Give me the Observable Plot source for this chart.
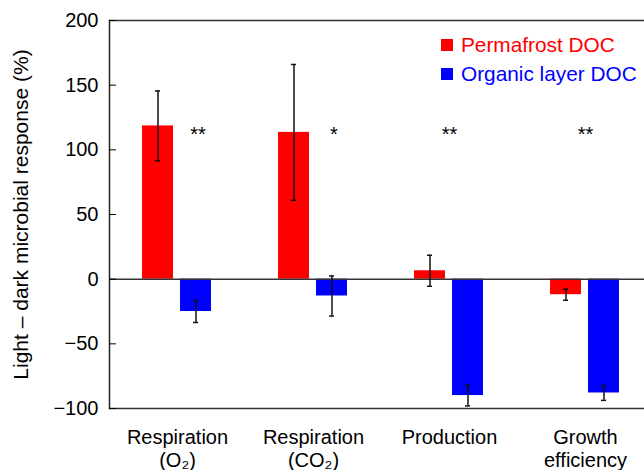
<!DOCTYPE html>
<html><head><meta charset="utf-8">
<script src="https://cdn.jsdelivr.net/npm/d3@7"></script>
<script src="https://cdn.jsdelivr.net/npm/@observablehq/plot@0.6"></script>
<style>
body{margin:0;background:#fff;}
#chart{position:relative;width:644px;height:470px;font-family:"Liberation Sans",Arial,sans-serif;overflow:hidden;}
.legend{position:absolute;left:441px;top:30px;font-size:20.8px;line-height:29px;}
.legend div{display:flex;align-items:center;white-space:nowrap;}
.legend .sw{display:inline-block;width:12px;height:12px;margin-right:8px;}
</style></head><body><div id="chart"></div>
<script>
const categories = ["Respiration\n(O\u2082)", "Respiration\n(CO\u2082)", "Production", "Growth\nefficiency"];
const series = ["Permafrost DOC", "Organic layer DOC"];
const colors = ["#ff0000", "#0000ff"];
const permafrost = [118.5, 113.5, 6.5, -12];
const permafrostErr = [27, 52.5, 12, 4.3];
const organic = [-25, -13, -90, -88];
const organicErr = [8.5, 15.5, 8, 5.7];
const significance = ["**", "*", "**", "**"];
const starOverOrganic = [true, true, false, false];
const yTicks = [-100, -50, 0, 50, 100, 150, 200];
const yLabel = "Light \u2013 dark microbial response (%)";
const starLevel = 112;

const rows = [];
categories.forEach((c, i) => {
  rows.push({group: c, series: series[0], value: permafrost[i], err: permafrostErr[i]});
  rows.push({group: c, series: series[1], value: organic[i], err: organicErr[i]});
});
const stars = categories.map((c, i) => ({group: c, text: significance[i], over: starOverOrganic[i]}));

const font = "Liberation Sans, Arial, sans-serif";
const plot = Plot.plot({
  width: 644, height: 470,
  marginLeft: 108, marginRight: -10, marginTop: 20, marginBottom: 62,
  style: {fontFamily: font, fontSize: "20px", background: "white", color: "black", overflow: "visible"},
  fx: {domain: categories, padding: 0},
  x: {domain: series, paddingInner: 0.18, paddingOuter: 0.84, axis: null},
  y: {domain: [-100, 200], ticks: yTicks},
  color: {domain: series, range: colors},
  marks: [
    Plot.barY(rows, {fx: "group", x: "series", y: "value", fill: "series"}),
    Plot.ruleY([0], {stroke: "#333", strokeWidth: 1.5}),
    Plot.ruleY([-100], {stroke: "#333", strokeWidth: 1.5}),
    Plot.ruleY([200], {stroke: "#333", strokeWidth: 1.5}),
    Plot.frame({anchor: "left", facetAnchor: "left", stroke: "#222", strokeWidth: 1.5}),
    Plot.ruleX(rows, {fx: "group", x: "series", y1: d => d.value - d.err, y2: d => d.value + d.err, stroke: "#111", strokeWidth: 1.5}),
    Plot.tickY(rows, {fx: "group", x: "series", y: d => d.value - d.err, insetLeft: 13, insetRight: 13, stroke: "#111", strokeWidth: 1.5}),
    Plot.tickY(rows, {fx: "group", x: "series", y: d => d.value + d.err, insetLeft: 13, insetRight: 13, stroke: "#111", strokeWidth: 1.5}),
    Plot.text(stars.filter(d => d.over), {fx: "group", x: () => series[1], y: () => starLevel, text: "text", fontSize: 20, fill: "black", dx: 2}),
    Plot.text(stars.filter(d => !d.over), {fx: "group", y: () => starLevel, text: "text", fontSize: 20, fill: "black", frameAnchor: "middle"}),
    Plot.axisY({ticks: yTicks, tickSize: -7, tickPadding: 18, fontSize: 20, label: null, tickFormat: d => d < 0 ? "\u2212" + Math.abs(d) : String(d)}),
    Plot.axisY({ticks: [], tickSize: 0, fontSize: 21, label: yLabel, labelAnchor: "center", labelArrow: "none", labelOffset: 96}),
    Plot.axisFx({anchor: "bottom", tickSize: 0, tickPadding: 19, fontSize: 20, label: null, lineHeight: 1.15})
  ]
});
const chart = document.getElementById("chart");
chart.appendChild(plot);
const legend = document.createElement("div");
legend.className = "legend";
series.forEach((s, i) => {
  const row = document.createElement("div");
  const sw = document.createElement("span");
  sw.className = "sw"; sw.style.background = colors[i];
  const t = document.createElement("span");
  t.textContent = s; t.style.color = colors[i];
  row.appendChild(sw); row.appendChild(t);
  legend.appendChild(row);
});
chart.appendChild(legend);
</script></body></html>
